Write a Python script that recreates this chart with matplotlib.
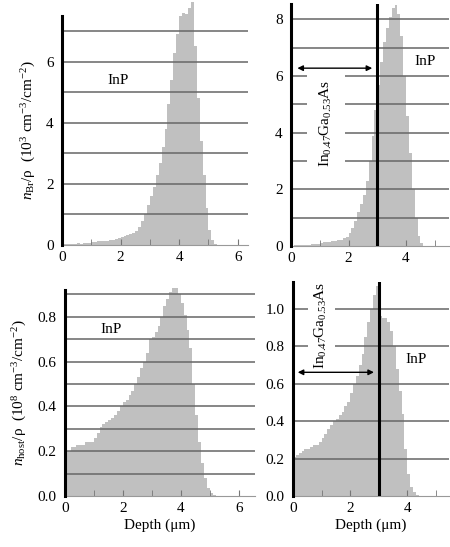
import numpy as np
import matplotlib.pyplot as plt

plt.rcParams['font.family'] = ['Liberation Serif', 'DejaVu Serif']
plt.rcParams['mathtext.fontset'] = 'custom'
plt.rcParams['mathtext.rm'] = 'Liberation Serif'
plt.rcParams['mathtext.it'] = 'Liberation Serif:italic'
plt.rcParams['font.size'] = 11

bin_width = 0.1  # depth bin, um

# n_Br / rho, InP substrate (10^3 cm^-3 / cm^-2)
br_inp = [0.03, 0.04, 0.05, 0.04, 0.05, 0.06, 0.05, 0.06, 0.07, 0.08,
          0.10, 0.11, 0.12, 0.12, 0.13, 0.14, 0.15, 0.17, 0.20, 0.22,
          0.25, 0.30, 0.33, 0.35, 0.38, 0.45, 0.60, 0.80, 1.00, 1.30,
          1.60, 1.90, 2.30, 2.70, 3.20, 3.80, 4.60, 5.40, 6.30, 6.90,
          7.50, 7.60, 7.55, 7.75, 7.95, 6.50, 4.80, 3.40, 2.30, 1.20,
          0.50, 0.15, 0.04]

# n_Br / rho, In0.47Ga0.53As on InP
br_gaas = [0.02, 0.03, 0.03, 0.04, 0.04, 0.05, 0.05, 0.06, 0.07, 0.08,
           0.12, 0.14, 0.15, 0.16, 0.18, 0.18, 0.20, 0.22, 0.28, 0.32,
           0.45, 0.65, 0.90, 1.20, 1.50, 1.80, 2.30, 3.00, 3.90, 4.80,
           5.70, 6.50, 7.20, 7.70, 8.10, 8.40, 8.50, 8.20, 7.40, 6.00,
           4.60, 3.30, 2.00, 1.00, 0.35, 0.10, 0.02]

# n_host / rho, InP (10^8 cm^-3 / cm^-2)
host_inp = [0.20, 0.20, 0.22, 0.22, 0.23, 0.23, 0.23, 0.24, 0.24, 0.24,
            0.26, 0.28, 0.31, 0.32, 0.33, 0.34, 0.35, 0.36, 0.38, 0.40,
            0.42, 0.43, 0.45, 0.47, 0.50, 0.53, 0.57, 0.60, 0.64, 0.70,
            0.71, 0.73, 0.76, 0.80, 0.85, 0.88, 0.91, 0.93, 0.93, 0.90,
            0.86, 0.81, 0.74, 0.66, 0.50, 0.36, 0.24, 0.15, 0.08, 0.035,
            0.015, 0.006, 0.002]

# n_host / rho, In0.47Ga0.53As on InP
host_gaas = [0.21, 0.22, 0.23, 0.24, 0.25, 0.25, 0.26, 0.27, 0.27, 0.29,
             0.31, 0.33, 0.36, 0.38, 0.40, 0.41, 0.43, 0.45, 0.48, 0.50,
             0.55, 0.60, 0.64, 0.70, 0.76, 0.85, 0.93, 1.00, 1.07, 1.12,
             0.96, 0.95, 0.95, 0.93, 0.88, 0.80, 0.68, 0.56, 0.44, 0.25,
             0.12, 0.05, 0.02, 0.007]

interface_depth = 3.0
layer_label = r'In$_{0.47}$Ga$_{0.53}$As'
ylabel_br = r'$n_{\mathrm{Br}}$/ρ  (10$^{3}$ cm$^{-3}$/cm$^{-2}$)'
ylabel_host = r'$n_{\mathrm{host}}$/ρ  (10$^{8}$ cm$^{-3}$/cm$^{-2}$)'

fill_color = '#c0c0c0'
grid_color = '#666666'


def setup(ax, values, xmax, ymax, grid_levels, yticks, ytick_fmt):
    edges = np.arange(len(values) + 1) * bin_width
    heights = np.append(values, values[-1])
    ax.fill_between(edges, heights, step='post', color=fill_color, lw=0,
                    clip_on=False, zorder=1)
    for v in grid_levels:
        ax.axhline(v, color=grid_color, lw=1.1, zorder=2)
    ax.set_xlim(0, xmax)
    ax.set_ylim(0, ymax)
    ax.set_yticks(yticks)
    ax.set_yticklabels([ytick_fmt.format(t) for t in yticks])
    ax.set_xticks(range(0, int(xmax) + 1, 2))
    ax.set_xticks(range(1, int(xmax) + 1), minor=True)
    ax.tick_params(axis='y', length=0, pad=6)
    ax.tick_params(axis='x', which='both', direction='in', length=4,
                   color='#777777', pad=4)
    for s in ('top', 'right'):
        ax.spines[s].set_visible(False)
    ax.spines['left'].set_linewidth(2.2)
    ax.spines['left'].set_zorder(5)
    ax.spines['bottom'].set_color('#999999')
    ax.spines['bottom'].set_linewidth(0.8)


fig = plt.figure(figsize=(4.5, 5.47), dpi=100)

# top left
ax1 = fig.add_axes([0.138, 0.552, 0.413, 0.419])
setup(ax1, br_inp, 6.35, 7.5, range(1, 8), [0, 2, 4, 6], '{:d}')
ax1.text(1.93, 5.38, 'InP', ha='center', va='center')
ax1.set_ylabel(ylabel_br, labelpad=6)

# top right
ax2 = fig.add_axes([0.647, 0.550, 0.351, 0.443])
setup(ax2, br_gaas, 5.5, 8.55, range(1, 9), [0, 2, 4, 6, 8], '{:d}')
ax2.axvline(interface_depth, color='black', lw=2.2, zorder=5)
ax2.text(1.22, 4.33, layer_label, rotation=90, ha='center', va='center',
         zorder=4, bbox=dict(boxstyle='square,pad=0.7', fc='white', ec='none'))
ax2.annotate('', xy=(0.12, 6.28), xytext=(2.92, 6.28),
             arrowprops=dict(arrowstyle='<|-|>', color='black', lw=1,
                             mutation_scale=8), zorder=6)
ax2.text(4.67, 6.5, 'InP', ha='center', va='center')

# bottom left
ax3 = fig.add_axes([0.144, 0.093, 0.422, 0.377])
setup(ax3, host_inp, 6.55, 0.92, np.arange(1, 10) / 10,
      [0, 0.2, 0.4, 0.6, 0.8], '{:.1f}')
ax3.text(1.58, 0.745, 'InP', ha='center', va='center')
ax3.set_ylabel(ylabel_host, labelpad=6)
ax3.set_xlabel('Depth (μm)', labelpad=3)

# bottom right
ax4 = fig.add_axes([0.651, 0.093, 0.347, 0.391])
setup(ax4, host_gaas, 5.46, 1.14, [0.2, 0.4, 0.6, 0.8, 1.0],
      [0, 0.2, 0.4, 0.6, 0.8, 1.0], '{:.1f}')
ax4.axvline(interface_depth, color='black', lw=2.2, zorder=5)
ax4.text(0.99, 0.91, layer_label, rotation=90, ha='center', va='center',
         zorder=4, clip_on=False,
         bbox=dict(boxstyle='square,pad=0.35', fc='white', ec='none'))
ax4.annotate('', xy=(0.07, 0.66), xytext=(2.93, 0.66),
             arrowprops=dict(arrowstyle='<|-|>', color='black', lw=1,
                             mutation_scale=8), zorder=6)
ax4.text(4.3, 0.73, 'InP', ha='center', va='center')
ax4.set_xlabel('Depth (μm)', labelpad=3)

fig.savefig('out.png', dpi=100)
